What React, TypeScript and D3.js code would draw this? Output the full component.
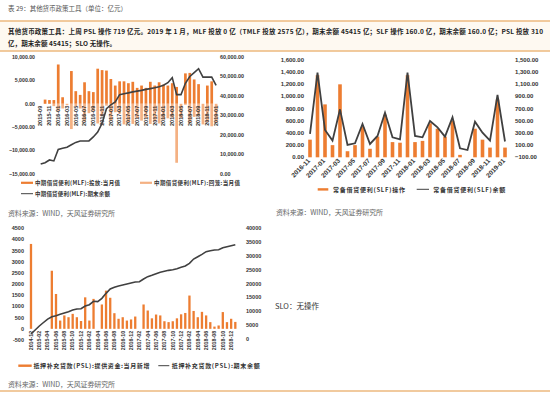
import * as d3 from "d3";

// month labels "YYYY-MM" starting at (y, m) for n months
const months = (y: number, m: number, n: number) =>
  d3.range(n).map((i) => d3.timeFormat("%Y-%m")(new Date(y, m - 1 + i, 1)));

// ---- MLF ----
const mlfMonths = months(2015, 9, 41);
const mlfPut = [0, 900, 800, 800, 8400, 1400, 0, 7000, 2700, 1900, 4600, 2700, 2500, 7500, 7200, 7100, 5300, 3900, 4800, 4800, 4400, 4700, 3400, 3900, 3400, 4700, 3900, 4600, 4100, 3900, 4400, 3600, 0, 6500, 6600, 5200, 4200, 0, 3900, 4800, 0];
const mlfBack = [0, 0, 0, -500, -1500, -1000, -300, -5400, -500, -1000, -3800, -2000, -1500, -4200, -2600, -400, -3600, -1800, -2100, -4400, -3900, -4300, -3100, -3600, -3000, -4300, -3700, -4200, -3400, -3100, -2900, -12600, -3000, -200, -4100, -2800, -2600, -4400, -3900, -4800, -4100];
const mlfBal = [5100, 5800, 7200, 6700, 12600, 13200, 13700, 15000, 16200, 16900, 16900, 17000, 19000, 21500, 26000, 33500, 35500, 37000, 40700, 41200, 41600, 42100, 42500, 42900, 43400, 43800, 44200, 44700, 45500, 46800, 49400, 40700, 40700, 46500, 50000, 52000, 54000, 49700, 49700, 49700, 45415];
const mlfLeftTicks = [10000, 5000, 0, -5000, -10000, -15000];
const mlfRightTicks = [60000, 50000, 40000, 30000, 20000, 10000, 0];

// ---- SLF ----
const slfMonths = months(2016, 11, 27);
const slfOp = [290, 1350, 870, 200, 1200, 100, 200, 500, 140, 340, 700, 250, 240, 1350, 250, 270, 560, 470, 340, 600, 40, 0, 470, 290, 160, 950, 160];
const slfBal = [284, 1292, 349, 174, 689, 103, 130, 448, 119, 251, 634, 229, 196, 1292, 251, 229, 497, 393, 240, 558, 48, 20, 486, 305, 174, 925, 160];
const slfLeftTicks = [1600, 1400, 1200, 1000, 800, 600, 400, 200, 0];
const slfRightTicks = [1500, 1300, 1100, 900, 700, 500, 300, 100, -100];

// ---- PSL ----
const pslMonths = months(2014, 12, 50);
const pslNew = [3800, 0, 0, 0, 0, 2600, 1560, 370, 600, 520, 670, 520, 350, 1410, 370, 1340, 0, 1090, 1710, 1390, 700, 450, 520, 370, 420, 550, 0, 1090, 820, 470, 640, 600, 340, 300, 340, 470, 650, 710, 1490, 800, 520, 760, 600, 300, 100, 150, 750, 300, 450, 310];
const pslBal = [1800, 3250, 4700, 5960, 7200, 8060, 8420, 8920, 9390, 9870, 10470, 10840, 10950, 11920, 12390, 13630, 13490, 14700, 16500, 18060, 18660, 19150, 19510, 19870, 20230, 20590, 20710, 21680, 22520, 23000, 23600, 24090, 24450, 24810, 25050, 25410, 25890, 26370, 27340, 28900, 29730, 30580, 31550, 31910, 32150, 32270, 32990, 33350, 33710, 34070];
const pslLeftTicks = [4500, 4000, 3500, 3000, 2500, 2000, 1500, 1000, 500, 0, -500];
const pslRightTicks = [40000, 35000, 30000, 25000, 20000, 15000, 10000, 5000, 0];

const ORANGE = "#ED7D31";
const LIGHT = "#F4B183";
const DARK = "#404040";
const NUM = "Liberation Sans, Arial, sans-serif";
const CJK = "Noto Sans CJK SC, sans-serif";

const fmt2 = d3.format(",.2f");

function bars(values: number[], cats: string[], x: d3.ScaleBand<string>, y: d3.ScaleLinear<number, number>, w: number, fill: string, key: string) {
  return values.map((v, i) => {
    const y0 = y(0);
    const y1 = y(v);
    return (
      <rect
        key={key + i}
        x={x(cats[i])! + x.bandwidth() / 2 - w / 2}
        y={Math.min(y0, y1)}
        width={w}
        height={Math.abs(y1 - y0)}
        fill={fill}
      />
    );
  });
}

function MLF() {
  const x = d3.scaleBand().domain(mlfMonths).range([38.5, 218.3]);
  const yL = d3.scaleLinear().domain([-15000, 10000]).range([174, 57]);
  const yR = d3.scaleLinear().domain([0, 60000]).range([174, 57]);
  const cx = (i: number) => x(mlfMonths[i])! + x.bandwidth() / 2;
  const line = d3.line<number>().x((_, i) => cx(i)).y((d) => yR(d));
  return (
    <g>
      {bars(mlfPut, mlfMonths, x, yL, 2.7, ORANGE, "p")}
      {bars(mlfBack, mlfMonths, x, yL, 2.7, LIGHT, "b")}
      {mlfMonths.map((m, i) =>
        i % 2 === 0 ? (
          <text key={m} transform={`translate(${cx(i) + 1.8},${yL(0) + 2}) rotate(-90)`} textAnchor="end" fontSize={5.5} fontWeight="bold" fontFamily={NUM} fill="#333">
            {m}
          </text>
        ) : null
      )}
      <path d={line(mlfBal)!} fill="none" stroke={DARK} strokeWidth={1.6} />
      {mlfLeftTicks.map((t) => (
        <text key={t} x={35} y={yL(t) + 1.8} textAnchor="end" fontSize={5.2} fontWeight="bold" fontFamily={NUM} fill="#333">
          {fmt2(t)}
        </text>
      ))}
      {mlfRightTicks.map((t) => (
        <text key={t} x={220} y={yR(t) + 1.8} fontSize={5.4} fontWeight="bold" fontFamily={NUM} fill="#333">
          {fmt2(t)}
        </text>
      ))}
      <rect x={21} y={181.7} width={12} height={2.2} fill={ORANGE} />
      <text x={35} y={184.7} fontSize={5.5} fontWeight="bold" fontFamily={CJK} fill="#333" textLength={85}>
        中期借贷便利(MLF):投放:当月值
      </text>
      <rect x={140} y={181.7} width={12} height={2.2} fill={LIGHT} />
      <text x={154} y={184.7} fontSize={5.5} fontWeight="bold" fontFamily={CJK} fill="#333" textLength={86}>
        中期借贷便利(MLF):回笼:当月值
      </text>
      <line x1={21} x2={33} y1={193.7} y2={193.7} stroke={DARK} strokeWidth={1} />
      <text x={35} y={195.7} fontSize={5.5} fontWeight="bold" fontFamily={CJK} fill="#333" textLength={75}>
        中期借贷便利(MLF):期末余额
      </text>
    </g>
  );
}

function SLF() {
  const x = d3.scaleBand().domain(slfMonths).range([306.25, 508.75]);
  const yL = d3.scaleLinear().domain([0, 1600]).range([157.3, 60]);
  const yR = d3.scaleLinear().domain([-100, 1500]).range([157.3, 60]);
  const cx = (i: number) => x(slfMonths[i])! + x.bandwidth() / 2;
  const line = d3.line<number>().x((_, i) => cx(i)).y((d) => yR(d));
  return (
    <g>
      {bars(slfOp, slfMonths, x, yL, 3.6, ORANGE, "s")}
      <path d={line(slfBal)!} fill="none" stroke={DARK} strokeWidth={1.8} />
      {slfLeftTicks.map((t) => (
        <text key={t} x={304} y={yL(t) + 2} textAnchor="end" fontSize={6} fontWeight="bold" fontFamily={NUM} fill="#333">
          {fmt2(t)}
        </text>
      ))}
      {slfRightTicks.map((t) => (
        <text key={t} x={515} y={yR(t) + 2} fontSize={6} fontWeight="bold" fontFamily={NUM} fill="#333">
          {fmt2(t)}
        </text>
      ))}
      {slfMonths.map((m, i) =>
        i % 2 === 0 ? (
          <text key={m} transform={`translate(${cx(i) + 0.5},${yL(0) + 4}) rotate(-45)`} textAnchor="end" fontSize={6.5} fontWeight="bold" fontFamily={NUM} fill="#333">
            {m}
          </text>
        ) : null
      )}
      <rect x={317.7} y={188.2} width={10.6} height={2.4} fill={ORANGE} />
      <text x={333} y={191.5} fontSize={6} fontWeight="bold" fontFamily={CJK} fill="#333" textLength={72}>
        常备借贷便利(SLF)操作
      </text>
      <line x1={416.7} x2={429} y1={189.3} y2={189.3} stroke={DARK} strokeWidth={1} />
      <text x={433.3} y={191.5} fontSize={6} fontWeight="bold" fontFamily={CJK} fill="#333" textLength={72}>
        常备借贷便利(SLF)余额
      </text>
    </g>
  );
}

function PSL() {
  const x = d3.scaleBand().domain(pslMonths).range([28.9, 237.4]);
  const yL = d3.scaleLinear().domain([-500, 4500]).range([340, 228.3]);
  const yR = d3.scaleLinear().domain([0, 40000]).range([339, 228.3]);
  const cx = (i: number) => x(pslMonths[i])! + x.bandwidth() / 2;
  const line = d3.line<number>().x((_, i) => cx(i)).y((d) => yR(d));
  return (
    <g>
      {bars(pslNew, pslMonths, x, yL, 2.3, ORANGE, "n")}
      {pslMonths.map((m, i) =>
        i % 2 === 0 ? (
          <text key={m} transform={`translate(${cx(i) + 1.8},${yL(0) + 2}) rotate(-90)`} textAnchor="end" fontSize={5.3} fontWeight="bold" fontFamily={NUM} fill="#333">
            {m}
          </text>
        ) : null
      )}
      <path d={line(pslBal)!} fill="none" stroke={DARK} strokeWidth={1.6} />
      {pslLeftTicks.map((t) => (
        <text key={t} x={24} y={yL(t) + 2} textAnchor="end" fontSize={5.5} fontWeight="bold" fontFamily={NUM} fill="#333">
          {t}
        </text>
      ))}
      {pslRightTicks.map((t) => (
        <text key={t} x={246} y={yR(t) + 2} fontSize={5.5} fontWeight="bold" fontFamily={NUM} fill="#333">
          {t}
        </text>
      ))}
      <rect x={18.3} y={364.5} width={13.4} height={2.4} fill={ORANGE} />
      <text x={33.5} y={368} fontSize={6} fontWeight="bold" fontFamily={CJK} fill="#333" textLength={116}>
        抵押补充贷款(PSL):提供资金:当月新增
      </text>
      <line x1={158.3} x2={169.3} y1={365.7} y2={365.7} stroke={DARK} strokeWidth={1} />
      <text x={171.7} y={368} fontSize={6} fontWeight="bold" fontFamily={CJK} fill="#333" textLength={88}>
        抵押补充贷款(PSL):期末余额
      </text>
    </g>
  );
}

export default function App() {
  return (
    <svg width={550} height={394} style={{ position: "absolute", left: 0, top: 0, background: "#fff" }}>
      <text x={8} y={11} fontSize={6.5} fontFamily={CJK} fill="#555" textLength={119}>
        表 29：其他货币政策工具（单位：亿元）
      </text>
      <rect x={0} y={21} width={550} height={30} fill="#FEF9F1" />
      <line x1={0} x2={550} y1={21} y2={21} stroke="#EDB97E" strokeWidth={1.5} />
      <text x={8} y={34} fontSize={6.5} fontWeight="bold" fontFamily={CJK} fill="#222" textLength={535}>
        其他货币政策工具：上周 PSL 操作 719 亿元。2019 年 1 月，MLF 投放 0 亿（TMLF 投放 2575 亿），期末余额 45415 亿；SLF 操作 160.0 亿，期末余额 160.0 亿；PSL 投放 310
      </text>
      <text x={8} y={46} fontSize={6.5} fontWeight="bold" fontFamily={CJK} fill="#222" textLength={108}>
        亿，期末余额 45415；SLO 无操作。
      </text>
      <line x1={0} x2={550} y1={51} y2={51} stroke="#EDB97E" strokeWidth={1.5} />

      <MLF />
      <SLF />
      <PSL />

      <text x={8} y={216} fontSize={7} fontFamily={CJK} fill="#666" textLength={107}>
        资料来源：WIND，天风证券研究所
      </text>
      <text x={276} y={214.5} fontSize={7} fontFamily={CJK} fill="#666" textLength={107}>
        资料来源：WIND，天风证券研究所
      </text>
      <text x={275} y={308.5} fontSize={7.5} fontFamily={CJK} fill="#333">
        SLO：无操作
      </text>
      <text x={8} y={387} fontSize={7} fontFamily={CJK} fill="#666" textLength={107}>
        资料来源：WIND，天风证券研究所
      </text>
      <line x1={0} x2={550} y1={391} y2={391} stroke="#EDB97E" strokeWidth={1.5} />
    </svg>
  );
}
